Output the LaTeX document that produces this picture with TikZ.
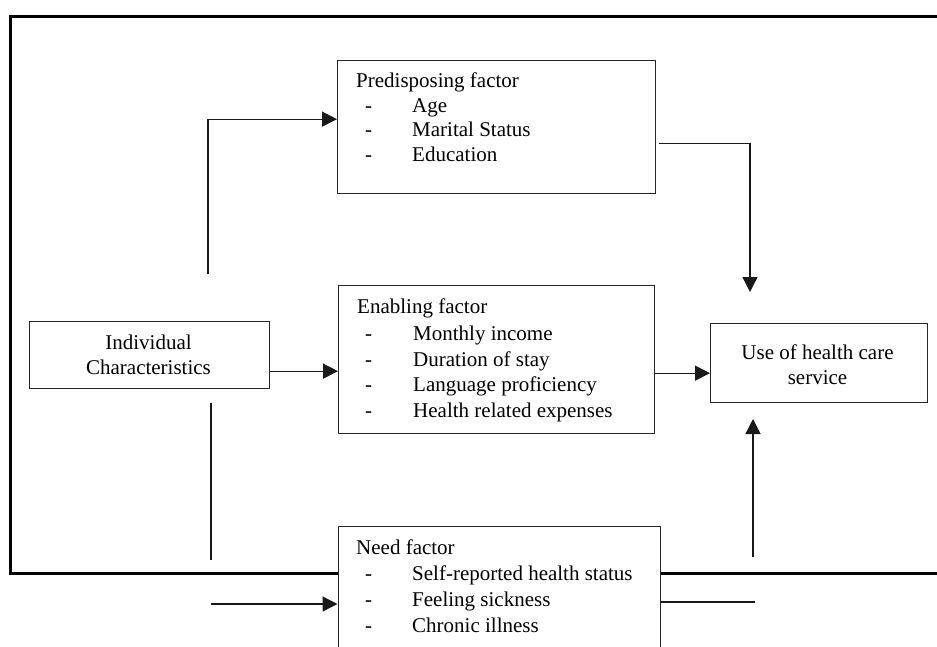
\documentclass[tikz,border=0pt]{standalone}
\usepackage{fontspec}
\setmainfont{Liberation Serif}
\usetikzlibrary{arrows.meta,calc}
\begin{document}
\begin{tikzpicture}[x=1pt,y=-1pt,
  box/.style={draw=black!85,line width=1.3pt,fill=white,inner sep=0pt,anchor=north west},
  txt/.style={anchor=base west,inner sep=0pt,font=\fontsize{21}{25}\selectfont},
  ctxt/.style={anchor=base,inner sep=0pt,font=\fontsize{21}{25}\selectfont},
  conn/.style={line width=1.3pt,draw=black!90},
  arr/.style={conn,-{Triangle[length=15pt,width=15pt]}}]
\clip (0,0) rectangle (937,646);
\fill[white] (0,0) rectangle (937,646);
% outer frame
\draw[line width=3pt] (950,16) -- (10,16) -- (10,573) -- (950,573);
% boxes
\node[box,minimum width=318pt,minimum height=133pt] (pre) at (337,59.5) {};
\node[box,minimum width=316pt,minimum height=148pt] (ena) at (338,284.5) {};
\node[box,minimum width=240pt,minimum height=67pt] (ind) at (29,321) {};
\node[box,minimum width=217pt,minimum height=79pt] (use) at (710,322.5) {};
\node[box,minimum width=322pt,minimum height=180pt] (need) at (337.5,526) {};
% texts: predisposing
\node[txt] (pt) at (356,87) {Predisposing factor};
\node[txt] (pd1) at (365,112) {-}; \node[txt] (pa1) at (412,112) {Age};
\node[txt] (pd2) at (365,136) {-}; \node[txt] (pa2) at (412,136) {Marital Status};
\node[txt] (pd3) at (365,161) {-}; \node[txt] (pa3) at (412,161) {Education};
% enabling
\node[txt] (et) at (357,313) {Enabling factor};
\node[txt] (ed1) at (365,340) {-}; \node[txt] (ea1) at (413,340) {Monthly income};
\node[txt] (ed2) at (365,366) {-}; \node[txt] (ea2) at (413,366) {Duration of stay};
\node[txt] (ed3) at (365,391) {-}; \node[txt] (ea3) at (413,391) {Language proficiency};
\node[txt] (ed4) at (365,417) {-}; \node[txt] (ea4) at (413,417) {Health related expenses};
% need
\node[txt] (nt) at (356,554) {Need factor};
\node[txt] (nd1) at (365,580) {-}; \node[txt] (na1) at (412,580) {Self-reported health status};
\node[txt] (nd2) at (365,606) {-}; \node[txt] (na2) at (412,606) {Feeling sickness};
\node[txt] (nd3) at (365,632) {-}; \node[txt] (na3) at (412,632) {Chronic illness};
% individual
\node[ctxt] (i1) at (148.5,349) {Individual};
\node[ctxt] (i2) at (148.5,374) {Characteristics};
% use
\node[ctxt] (u1) at (817.5,359) {Use of health care};
\node[ctxt] (u2) at (817.5,384) {service};
% connectors
\coordinate (c1) at (208,274);
\draw[arr] (c1) |- ([yshift=7.5pt]pre.west);
\draw[arr] ([yshift=-16pt]ind.east) -- ([yshift=-16pt]ind.east -| ena.west);
\coordinate (c2) at (750,292);
\draw[arr] ([xshift=3pt,yshift=-16.5pt]pre.east) -| (c2);
\draw[arr] ([yshift=-14pt]ena.east) -- ([yshift=-14pt]ena.east -| use.west);
\coordinate (c3) at (211,403); \coordinate (c4) at (211,560);
\draw[conn] (c3) -- (c4);
\coordinate (c5) at (211,604);
\draw[arr] (c5) -- (c5 -| need.west);
\coordinate (c6) at (755,602);
\draw[conn] (c6 -| need.east) -- (c6);
\coordinate (c7) at (753,557); \coordinate (c8) at (753,419);
\draw[arr] (c7) -- (c8);
\end{tikzpicture}
\end{document}
